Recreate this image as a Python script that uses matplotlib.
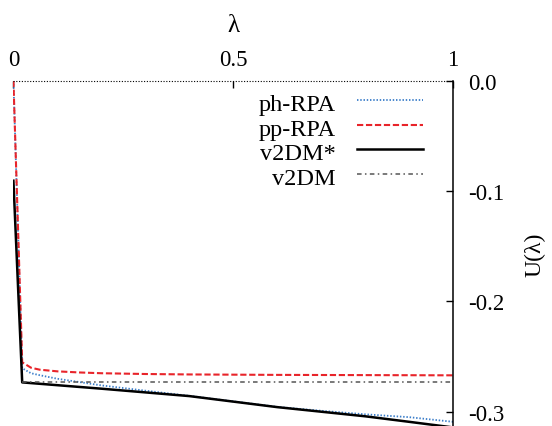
import matplotlib
matplotlib.use("Agg")
from matplotlib import pyplot as plt
from matplotlib.lines import Line2D
from matplotlib.ticker import FuncFormatter

# coupling strength lambda and adiabatic connection integrand U(lambda)
lam_ph = [0.0, 0.02, 0.04, 0.06, 0.10, 0.15, 0.20, 0.30, 0.40, 0.50, 0.60, 0.70, 0.80, 0.90, 1.00]
u_ph = [0.0, -0.2605, -0.2650, -0.2668, -0.2700, -0.2730, -0.2760, -0.2808, -0.2855,
        -0.2905, -0.2955, -0.2990, -0.3022, -0.3048, -0.3090]

lam_pp = [0.0, 0.02, 0.04, 0.06, 0.10, 0.15, 0.20, 0.30, 0.40, 0.60, 0.80, 1.00]
u_pp = [0.0, -0.2551, -0.2600, -0.2618, -0.2633, -0.2643, -0.2650, -0.2657, -0.2661,
        -0.2665, -0.2667, -0.2669]

lam_v2s = [0.0, 0.02, 0.20, 0.40, 0.60, 0.80, 0.90, 1.00]
u_v2s = [-0.0906, -0.2733, -0.2790, -0.2857, -0.2957, -0.3040, -0.3090, -0.3141]

lam_v2 = [0.02, 0.25, 0.50, 0.75, 1.00]
u_v2 = [-0.2729, -0.2729, -0.2729, -0.2729, -0.2729]

labels = ["ph-RPA", "pp-RPA", "v2DM*", "v2DM"]
x_ticks = [0, 0.5, 1]
y_ticks = [0.0, -0.1, -0.2, -0.3]

plt.rcParams["font.family"] = ["Liberation Serif", "DejaVu Serif"]
plt.rcParams["axes.unicode_minus"] = False

fig = plt.figure(figsize=(5.52, 4.27), dpi=100)
ax = fig.add_axes([0.0243, 0.0, 0.7964, 0.8087])

styles = [
    dict(color="#3a7dc9", lw=1.3, dashes=(0.8, 1.0)),
    dict(color="#e8242a", lw=1.5, dashes=(3.0, 1.3)),
    dict(color="black", lw=1.8, linestyle="-"),
    dict(color="#555555", lw=1.1, dashes=(3.0, 2.2, 1.0, 2.2)),
]
series = [(lam_ph, u_ph), (lam_pp, u_pp), (lam_v2s, u_v2s), (lam_v2, u_v2)]

for (xs, ys), st in zip(series, styles):
    ax.plot(xs, ys, **st)

ax.set_xlim(0, 1)
ax.set_ylim(-0.3128, 0)

# zero line drawn dotted along the top
ax.axhline(0, color="black", lw=0.8, dashes=(1, 1.5), clip_on=False)

for side in ["left", "bottom", "top"]:
    ax.spines[side].set_visible(False)
ax.spines["right"].set_linewidth(1.1)

ax.xaxis.tick_top()
ax.xaxis.set_label_position("top")
ax.set_xticks(x_ticks)
ax.xaxis.set_major_formatter(FuncFormatter(lambda v, p: "%g" % v))
ax.yaxis.tick_right()
ax.yaxis.set_label_position("right")
ax.set_yticks(y_ticks)
ax.yaxis.set_major_formatter(FuncFormatter(lambda v, p: "%.1f" % v))
ax.tick_params(axis="both", direction="in", length=5, width=1, labelsize=16.5)
ax.tick_params(axis="x", pad=8)
ax.tick_params(axis="y", pad=11)

ax.set_xlabel("λ", fontsize=18, labelpad=13)
ax.set_ylabel("U(λ)", fontsize=17, labelpad=14, rotation=90)

# gnuplot-like key: right-aligned text, sample to the right
row_text = [0.9137, 0.8427, 0.7718, 0.7008]
row_line = [0.9427, 0.8721, 0.8008, 0.7301]
for lab, st, yt, yl in zip(labels, styles, row_text, row_line):
    ax.text(0.734, yt, lab, transform=ax.transAxes, ha="right", va="baseline", fontsize=17.5)
    ax.add_line(Line2D([0.7823, 0.9325], [yl, yl], transform=ax.transAxes, **st))

fig.savefig("out.png", dpi=100)
